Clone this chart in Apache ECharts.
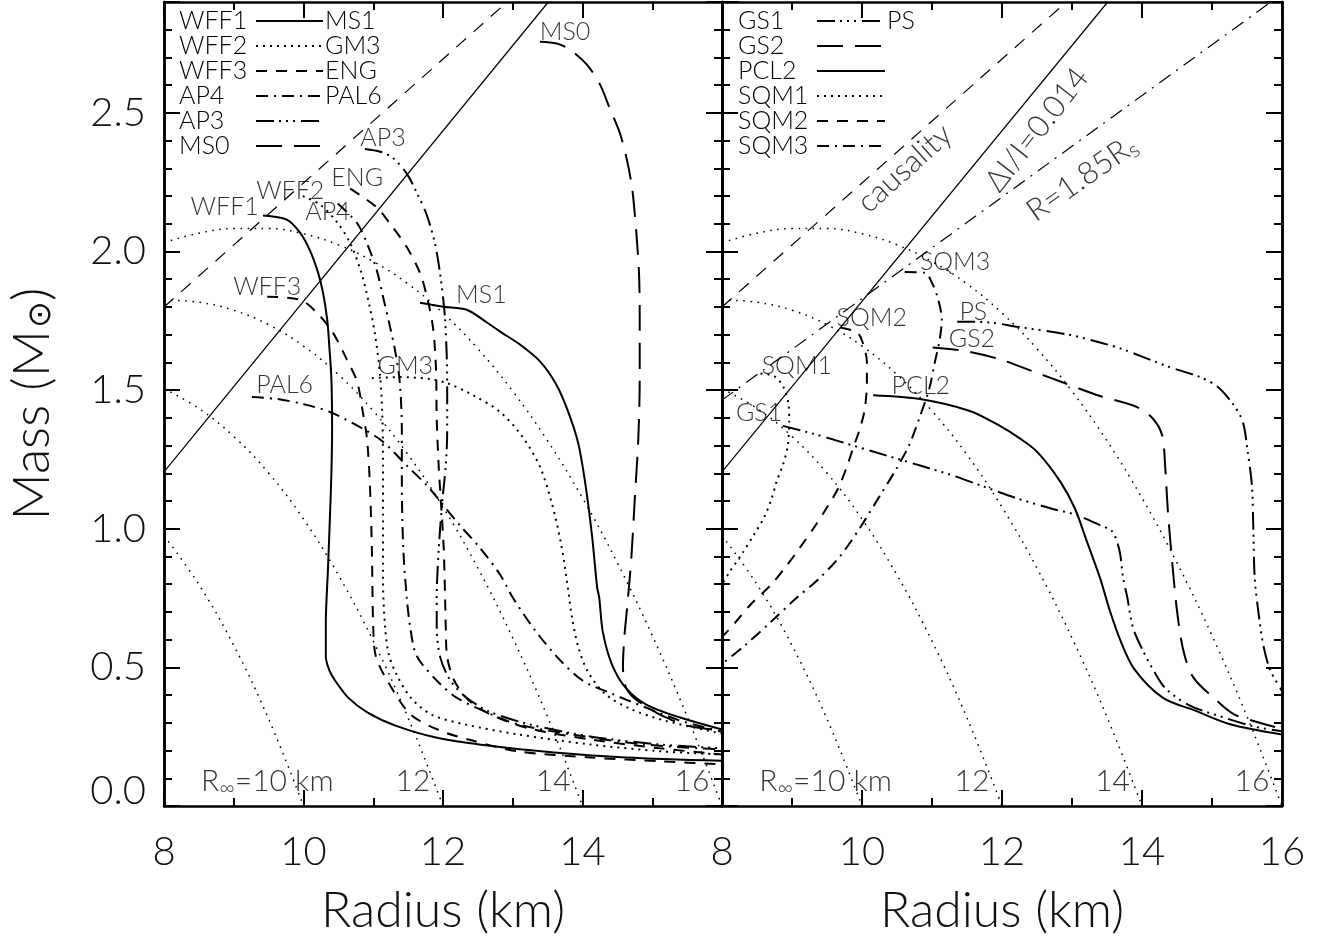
<!DOCTYPE html>
<html><head><meta charset="utf-8">
<script src="https://cdn.jsdelivr.net/npm/echarts@6/dist/echarts.min.js"></script>
<style>html,body{margin:0;padding:0;background:#fff}#c{width:1321px;height:941px}</style>
</head><body><div id="c"></div>
<script>
// ---------- data: [radius km, mass Msun] ----------
const WFF1 = [[9.42,2.13],[9.76,2.115],[9.95,2.068],[10.09,2.005],[10.21,1.923],[10.28,1.851],[10.34,1.754],[10.37,1.658],[10.40,1.54],[10.41,1.36],[10.40,1.20],[10.38,1.05],[10.35,0.85],[10.32,0.66],[10.32,0.54],[10.37,0.49],[10.46,0.45],[10.64,0.391],[10.92,0.337],[11.33,0.289],[11.90,0.247],[12.67,0.217],[13.59,0.193],[14.62,0.175],[16.0,0.163]];
const WFF2 = [[9.99,2.20],[10.24,2.169],[10.48,2.106],[10.67,2.03],[10.83,1.923],[10.95,1.80],[11.03,1.694],[11.10,1.55],[11.13,1.407],[11.14,1.228],[11.14,1.049],[11.14,0.813],[11.17,0.644],[11.22,0.55],[11.33,0.476],[11.54,0.39],[11.84,0.329],[12.32,0.294],[13.08,0.258],[14.11,0.222],[15.14,0.197],[16.0,0.186]];
const WFF3 = [[9.48,1.837],[9.95,1.826],[10.19,1.78],[10.42,1.708],[10.62,1.611],[10.77,1.529],[10.85,1.421],[10.91,1.325],[10.95,1.171],[10.98,0.931],[11.0,0.644],[11.04,0.537],[11.23,0.44],[11.54,0.329],[11.96,0.272],[12.42,0.236],[13.08,0.197],[14.11,0.175],[15.14,0.161],[16.0,0.15]];
const AP4 = [[10.49,2.173],[10.77,2.102],[10.92,2.023],[11.05,1.933],[11.14,1.837],[11.24,1.729],[11.31,1.647],[11.38,1.529],[11.41,1.35],[11.41,1.171],[11.43,0.931],[11.48,0.752],[11.53,0.644],[11.60,0.555],[11.70,0.512],[11.96,0.44],[12.20,0.39],[12.57,0.344],[13.08,0.294],[13.85,0.258],[14.88,0.222],[16.0,0.204]];
const ENG = [[10.67,2.227],[11.05,2.159],[11.28,2.087],[11.48,2.016],[11.67,1.923],[11.78,1.826],[11.86,1.719],[11.90,1.575],[11.91,1.396],[11.94,1.217],[11.97,1.099],[12.01,0.931],[12.03,0.752],[12.04,0.644],[12.06,0.537],[12.17,0.448],[12.39,0.376],[12.75,0.322],[13.25,0.279],[14.11,0.24],[15.11,0.208],[16.0,0.186]];
const AP3 = [[10.88,2.37],[11.10,2.36],[11.28,2.338],[11.48,2.281],[11.63,2.209],[11.77,2.13],[11.89,2.023],[11.97,1.898],[12.03,1.754],[12.06,1.529],[12.06,1.35],[12.04,1.228],[11.99,1.099],[11.94,0.931],[11.91,0.752],[11.91,0.644],[11.96,0.537],[12.10,0.455],[12.32,0.394],[12.67,0.34],[13.25,0.294],[14.11,0.251],[15.11,0.222],[16.0,0.208]];
const PAL6 = [[9.26,1.475],[9.62,1.468],[9.99,1.45],[10.38,1.421],[10.85,1.361],[11.14,1.314],[11.48,1.228],[11.77,1.156],[11.96,1.099],[12.24,1.013],[12.53,0.931],[12.82,0.834],[13.0,0.752],[13.33,0.63],[13.69,0.523],[14.01,0.451],[14.42,0.405],[14.88,0.358],[15.40,0.308],[16.0,0.268]];
const MS1 = [[11.67,1.815],[12.0,1.801],[12.34,1.79],[12.63,1.744],[12.82,1.711],[13.10,1.665],[13.39,1.604],[13.62,1.522],[13.79,1.425],[13.94,1.307],[14.05,1.146],[14.14,0.967],[14.21,0.788],[14.24,0.752],[14.29,0.63],[14.42,0.512],[14.62,0.426],[14.92,0.365],[15.40,0.319],[16.0,0.276]];
const MS0 = [[13.39,2.757],[13.63,2.75],[13.82,2.728],[14.06,2.675],[14.25,2.603],[14.39,2.517],[14.54,2.424],[14.64,2.327],[14.71,2.231],[14.75,2.134],[14.78,2.041],[14.81,1.923],[14.82,1.779],[14.82,1.54],[14.80,1.325],[14.75,1.11],[14.70,0.895],[14.64,0.716],[14.60,0.609],[14.58,0.501],[14.62,0.43],[14.72,0.394],[14.92,0.358],[15.14,0.326],[15.50,0.29],[16.0,0.272]];
const GM3 = [[10.98,1.543],[11.38,1.547],[11.81,1.54],[12.06,1.525],[12.43,1.482],[12.82,1.421],[13.13,1.335],[13.39,1.224],[13.56,1.092],[13.69,0.949],[13.78,0.806],[13.85,0.68],[13.94,0.573],[14.08,0.483],[14.32,0.405],[14.68,0.351],[15.18,0.308],[16.0,0.261]];

const GS1 = [[8.87,1.371],[9.30,1.343],[9.64,1.318],[10.11,1.282],[10.83,1.228],[11.30,1.192],[11.73,1.153],[12.21,1.11],[12.69,1.074],[13.07,1.049],[13.40,1.013],[13.57,0.992],[13.64,0.956],[13.69,0.906],[13.73,0.823],[13.79,0.752],[13.87,0.644],[14.01,0.562],[14.16,0.491],[14.33,0.426],[14.66,0.365],[15.17,0.319],[15.61,0.286],[16.0,0.27]];
const PS = [[11.36,1.747],[11.83,1.744],[12.21,1.729],[12.93,1.701],[13.40,1.672],[13.73,1.647],[14.36,1.586],[14.83,1.547],[15.07,1.514],[15.30,1.45],[15.44,1.386],[15.51,1.278],[15.57,1.156],[15.59,1.003],[15.61,0.823],[15.66,0.705],[15.73,0.584],[15.83,0.491],[16.0,0.415]];
const GS2 = [[11.01,1.654],[11.50,1.64],[11.97,1.611],[12.44,1.568],[12.93,1.522],[13.40,1.479],[13.93,1.439],[14.16,1.396],[14.29,1.335],[14.33,1.228],[14.37,1.063],[14.43,0.884],[14.50,0.705],[14.59,0.562],[14.73,0.465],[15.07,0.38],[15.33,0.329],[15.9,0.285]];
const PCL2 = [[10.16,1.482],[10.83,1.468],[11.54,1.425],[11.97,1.371],[12.26,1.325],[12.50,1.278],[12.83,1.171],[13.04,1.074],[13.21,0.956],[13.40,0.823],[13.54,0.705],[13.69,0.598],[13.89,0.494],[14.30,0.39],[14.76,0.344],[15.27,0.294],[16.0,0.258]];
const SQM1 = [[8.55,1.56],[8.75,1.55],[8.88,1.51],[8.95,1.45],[8.96,1.39],[8.94,1.30],[8.87,1.23],[8.78,1.17],[8.71,1.11],[8.60,1.04],[8.46,0.98],[8.30,0.915],[8.11,0.845],[8.0,0.80]];
const SQM2 = [[9.69,1.726],[9.93,1.708],[10.01,1.672],[10.07,1.6],[10.07,1.529],[10.04,1.432],[9.97,1.361],[9.87,1.289],[9.79,1.228],[9.66,1.146],[9.51,1.081],[9.33,1.01],[9.11,0.931],[8.90,0.859],[8.69,0.795],[8.41,0.727],[8.19,0.662],[8.0,0.609]];
const SQM3 = [[10.61,1.926],[10.90,1.923],[11.0,1.887],[11.09,1.826],[11.14,1.754],[11.11,1.683],[11.04,1.6],[10.96,1.504],[10.83,1.407],[10.67,1.3],[10.47,1.207],[10.26,1.121],[9.97,1.003],[9.69,0.902],[9.37,0.816],[9.07,0.752],[8.69,0.662],[8.33,0.58],[8.0,0.512]];

// constant R_infinity contours (thin dotted)
const RINF10 = [[8,0.975],[8.5,0.799],[9,0.579],[9.5,0.314],[10,0]];
const RINF12 = [[8,1.505],[8.5,1.434],[9,1.333],[9.5,1.201],[10,1.035],[10.5,0.833],[11,0.595],[11.5,0.318],[12,0]];
const RINF14 = [[8,1.825],[8.5,1.817],[9,1.788],[9.5,1.736],[10,1.659],[10.5,1.556],[11,1.425],[11.5,1.267],[12,1.078],[12.5,0.858],[13,0.606],[13.5,0.321],[14,0]];
const RINF16 = [[8,2.032],[8.5,2.066],[9,2.083],[9.5,2.083],[10,2.064],[10.5,2.024],[11,1.964],[11.5,1.883],[12,1.778],[12.5,1.649],[13,1.496],[13.5,1.317],[14,1.111],[14.5,0.877],[15,0.615],[15.5,0.323],[16,0]];

// straight reference lines
const CAUSALITY = [[8,1.80],[12.92,2.9]];
const DELTA_I = [[8,1.205],[13.51,2.9]];
const R185 = [[8,1.464],[16,2.929]];

// axis ticks
const X_TICKS = [8,10,12,14,16];
const Y_TICKS = [0.0,0.5,1.0,1.5,2.0,2.5];

// in-plot labels [text, R, M]
const LEFT_LABELS = [['WFF1',8.87,2.159],['WFF2',9.81,2.22],['ENG',10.77,2.266],['AP4',10.35,2.141],['AP3',11.14,2.41],['MS0',13.75,2.793],['WFF3',9.48,1.873],['MS1',12.55,1.844],['GM3',11.46,1.586],['PAL6',9.73,1.518]];
const RIGHT_LABELS = [['SQM3',11.33,1.962],['PS',11.59,1.783],['GS2',11.57,1.683],['SQM2',10.14,1.762],['PCL2',10.84,1.515],['SQM1',9.07,1.586],['GS1',8.53,1.418]];
const RINF_LABELS = [['R{s|∞}=10 km',9.48,0.09],['12',11.57,0.09],['14',13.58,0.09],['16',15.57,0.09]];
const LINE_LABELS = [['causality',10.61,2.30,42],['ΔI/I=0.014',12.5,2.44,52],['R=1.85R{s|s}',13.14,2.265,35]];

// legends
const LEFT_LEGEND = [['WFF1','MS1','solid'],['WFF2','GM3','dot'],['WFF3','ENG','dash'],['AP4','PAL6','dashdot'],['AP3','','dash3dot'],['MS0','','longdash']];
const RIGHT_LEGEND = [['GS1','PS','dash3dot'],['GS2','','longdash'],['PCL2','','solid'],['SQM1','','dot'],['SQM2','','dash'],['SQM3','','dashdot']];

// ---------- styling ----------
const FONT = 'Lato';
const TXT = '#000';
const DASH = {solid:'solid', dot:[2,5], dash:[11,9], dashdot:[12,6,2,6], dash3dot:[18,5,2,5,2,5,2,6], longdash:[26,12]};

const GRID_L = {left:164, top:2, width:558, height:808};
const GRID_R = {left:722, top:2, width:560, height:808};

function xAxes(g, showLabels){
  const base = {type:'value', gridIndex:g, min:8, max:16, interval:2,
    axisLine:{show:true,onZero:false,lineStyle:{color:'#000',width:2.5}},
    axisTick:{show:true,inside:true,length:16,lineStyle:{color:'#000',width:2}},
    minorTick:{show:true,splitNumber:2,length:8,lineStyle:{color:'#000',width:2}},
    splitLine:{show:false}, minorSplitLine:{show:false}};
  return [
    Object.assign({}, base, {position:'bottom',
      axisLabel:{show:true, margin:26, fontSize:40, fontFamily:FONT, fontWeight:300, color:'#111',
        formatter: v => (X_TICKS.indexOf(v) >= 0 && !(showLabels==='noLast' && v===16)) ? String(v) : ''},
      name:'Radius (km)', nameLocation:'middle', nameGap:80,
      nameTextStyle:{fontSize:50, fontFamily:FONT, fontWeight:300, color:'#111'}}),
    Object.assign({}, base, {position:'top', axisLabel:{show:false}})
  ];
}
function yAxes(g, showLabels){
  const line = {show:true,onZero:false,lineStyle:{color:'#000',width:2.5}};
  const major = {type:'value', gridIndex:g, min:0, max:2.9, interval:0.5, axisLine:line,
    axisTick:{show:true,inside:true,length:16,lineStyle:{color:'#000',width:2}}, splitLine:{show:false}};
  const minor = {type:'value', gridIndex:g, min:0, max:2.9, interval:0.1, axisLine:line,
    axisTick:{show:true,inside:true,length:8,lineStyle:{color:'#000',width:2}}, splitLine:{show:false}, axisLabel:{show:false}};
  const lab = showLabels ? {show:true, margin:18, fontSize:40, fontFamily:FONT, fontWeight:300, color:'#111',
      formatter: v => { const hit = Y_TICKS.find(t => Math.abs(t - v) < 1e-6); if (hit === undefined) return ''; return hit === 0 ? '{lo|0.0}' : hit.toFixed(1); },
      rich:{lo:{fontSize:40, fontFamily:FONT, fontWeight:300, color:'#111', padding:[0,0,30,0]}}} : {show:false};
  return [
    Object.assign({}, major, {position:'left', axisLabel:lab,
      name: showLabels ? 'Mass (M{s|⊙})' : '', nameLocation:'middle', nameGap:106,
      nameTextStyle:{fontSize:52, fontFamily:FONT, fontWeight:300, color:'#111',
        rich:{s:{fontSize:32, fontFamily:'DejaVu Sans', color:'#111', verticalAlign:'bottom', padding:[16,0,0,2]}}}}),
    Object.assign({}, minor, {position:'left'}),
    Object.assign({}, major, {position:'right', axisLabel:{show:false}}),
    Object.assign({}, minor, {position:'right'})
  ];
}

function curve(data, g, style, width){
  return {type:'line', data:data, xAxisIndex:g*2, yAxisIndex:g*4, symbol:'none', showSymbol:false,
    smooth:0.3, clip:true, silent:true, animation:false, z:3,
    lineStyle:{color:'#000', width:width||2, type:DASH[style]||style}};
}
function thin(data, g, type, w){
  return {type:'line', data:data, xAxisIndex:g*2, yAxisIndex:g*4, symbol:'none', showSymbol:false,
    smooth:0.4, clip:true, silent:true, animation:false, z:2,
    lineStyle:{color:'#000', width:w||1.2, type:type}};
}
function labels(items, g, size){
  return {type:'scatter', xAxisIndex:g*2, yAxisIndex:g*4, symbolSize:1, silent:true, animation:false, z:6,
    itemStyle:{color:'rgba(0,0,0,0)'},
    data: items.map(it => ({name:it[0], value:[it[1], it[2]],
      label: it.length > 3 ? {rotate: it[3]} : undefined})),
    label:{show:true, position:'inside', formatter:'{b}', fontSize:size||24, fontFamily:FONT, fontWeight:300, color:TXT,
      rich:{s:{fontSize:Math.round((size||24)*0.7), fontFamily:FONT, fontWeight:300, color:TXT, verticalAlign:'bottom', padding:[Math.round((size||24)*0.45),0,0,0]}}}};
}

const series = [];
[0,1].forEach(g => {
  [RINF10, RINF12, RINF14, RINF16].forEach(d => series.push(thin(d, g, [1.6,5.5], 1.5)));
  series.push(thin(CAUSALITY, g, [13,10]));
  series.push(thin(DELTA_I, g, 'solid'));
  series.push(labels(RINF_LABELS, g, 30));
});
series.push(thin(R185, 1, [14,7,2,7]));
series.push(labels(LINE_LABELS, 1, 31));

series.push(curve(WFF1,0,'solid'), curve(MS1,0,'solid'),
  curve(WFF2,0,'dot'), curve(GM3,0,'dot'),
  curve(WFF3,0,'dash'), curve(ENG,0,'dash'),
  curve(AP4,0,'dashdot'), curve(PAL6,0,'dashdot'),
  curve(AP3,0,'dash3dot'), curve(MS0,0,'longdash'));
series.push(curve(GS1,1,'dash3dot'), curve(PS,1,'dash3dot'),
  curve(GS2,1,'longdash'), curve(PCL2,1,'solid'),
  curve(SQM1,1,'dot'), curve(SQM2,1,'dash'), curve(SQM3,1,'dashdot'));
series.push(labels(LEFT_LABELS, 0, 25), labels(RIGHT_LABELS, 1, 25));

// legend graphics
const graphic = [];
function legendBlock(rows, x0, lx1, lx2, rx){
  rows.forEach((r, i) => {
    const y = 21 + i * 25;
    graphic.push({type:'text', style:{text:r[0], x:x0, y:y, fill:TXT, fontSize:25, fontFamily:FONT, fontWeight:300, verticalAlign:'middle', align:'left'}, z:10});
    const d = DASH[r[2]];
    graphic.push({type:'line', shape:{x1:lx1, y1:y, x2:lx2, y2:y}, style:{stroke:'#000', lineWidth:2, lineDash: d === 'solid' ? null : d}, z:10});
    if (r[1]) graphic.push({type:'text', style:{text:r[1], x:rx, y:y, fill:TXT, fontSize:25, fontFamily:FONT, fontWeight:300, verticalAlign:'middle', align:'left'}, z:10});
  });
}
legendBlock(LEFT_LEGEND, 179, 256, 323, 325);
legendBlock(RIGHT_LEGEND, 738, 817, 885, 887);

const chart = echarts.init(document.getElementById('c'), null, {renderer:'canvas'});
chart.setOption({
  animation:false,
  backgroundColor:'#fff',
  grid:[GRID_L, GRID_R],
  xAxis: xAxes(0,'noLast').concat(xAxes(1,true)),
  yAxis: yAxes(0,true).concat(yAxes(1,false)),
  series: series,
  graphic: graphic
});
</script></body></html>
